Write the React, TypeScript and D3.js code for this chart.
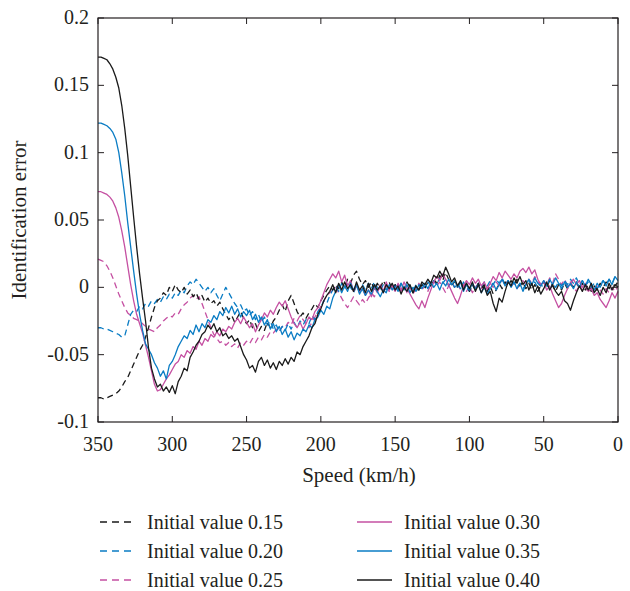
import React from "react";
import * as d3 from "d3";

// Speed axis (km/h), from 350 down to 0 in 2 km/h steps
const speeds: number[] = d3.range(350, -1, -2);

const xTicks = [350, 300, 250, 200, 150, 100, 50, 0];
const yTicks = [-0.1, -0.05, 0, 0.05, 0.1, 0.15, 0.2];
const yTickLabels = ["-0.1", "-0.05", "0", "0.05", "0.1", "0.15", "0.2"];

const init015: number[] = [
  -0.082, -0.082, -0.083, -0.082, -0.081, -0.080, -0.079, -0.077, -0.074, -0.070,
  -0.067, -0.062, -0.057, -0.052, -0.047, -0.043, -0.037, -0.030, -0.022, -0.015,
  -0.010, -0.008, -0.004, -0.006, 0.000, -0.003, 0.002, -0.002, -0.004, 0.000,
  -0.005, -0.002, -0.007, -0.004, -0.009, -0.006, -0.011, -0.008, -0.012, -0.010,
  -0.014, -0.011, -0.016, -0.020, -0.024, -0.021, -0.026, -0.022, -0.018, -0.023,
  -0.027, -0.024, -0.030, -0.027, -0.033, -0.029, -0.032, -0.026, -0.030, -0.025,
  -0.022, -0.017, -0.013, -0.018, -0.010, -0.006, -0.012, -0.018, -0.022, -0.019,
  -0.023, -0.019, -0.016, -0.012, -0.015, -0.010, -0.006, -0.002, 0.001, -0.002,
  0.002, -0.001, 0.004, 0.000, 0.006, 0.003, 0.009, 0.012, 0.006, 0.002,
  0.005, 0.000, 0.004, -0.002, 0.003, -0.001, 0.005, 0.001, 0.004, -0.002,
  0.002, -0.002, 0.003, -0.001, 0.004, 0.000, -0.004, 0.001, -0.003, 0.002,
  -0.001, 0.004, 0.001, 0.006, 0.003, 0.009, 0.005, 0.011, 0.006, 0.002,
  0.004, 0.000, 0.005, -0.001, 0.003, -0.003, 0.002, -0.002, 0.003, -0.001,
  0.002, -0.003, 0.001, -0.005, -0.002, 0.003, -0.001, 0.004, 0.001, 0.005,
  0.002, 0.006, 0.001, 0.004, -0.001, 0.003, -0.002, 0.002, -0.003, 0.001,
  0.004, 0.000, 0.005, 0.001, -0.003, 0.002, -0.002, 0.003, -0.001, 0.002,
  0.000, 0.004, -0.001, 0.003, -0.002, 0.002, -0.003, 0.001, -0.002, 0.003,
  0.000, 0.004, -0.001, 0.003, 0.001, 0.004,
];

const init020: number[] = [
  -0.030, -0.030, -0.031, -0.031, -0.032, -0.033, -0.034, -0.035, -0.037, -0.036,
  -0.028, -0.020, -0.017, -0.018, -0.014, -0.016, -0.012, -0.014, -0.010, -0.012,
  -0.009, -0.011, -0.007, -0.009, -0.005, -0.008, -0.004, -0.006, -0.002, -0.004,
  0.001, 0.004, 0.002, 0.006, 0.003, 0.000, -0.003, 0.000, -0.004, -0.001,
  -0.006, -0.010, -0.005, 0.000, -0.004, -0.008, -0.012, -0.015, -0.013, -0.018,
  -0.016, -0.021, -0.018, -0.024, -0.020, -0.026, -0.022, -0.028, -0.025, -0.031,
  -0.028, -0.033, -0.029, -0.032, -0.027, -0.031, -0.026, -0.030, -0.025, -0.028,
  -0.024, -0.027, -0.021, -0.024, -0.018, -0.015, -0.010, -0.012, -0.006, -0.002,
  0.001, -0.003, 0.003, -0.001, 0.004, 0.000, -0.004, 0.001, -0.003, 0.002,
  -0.002, 0.003, -0.001, 0.004, 0.000, -0.003, 0.002, -0.002, 0.003, -0.001,
  0.002, -0.002, 0.003, -0.001, 0.004, 0.001, -0.003, 0.002, -0.002, 0.003,
  0.000, 0.004, 0.001, 0.005, 0.002, 0.007, 0.003, 0.006, 0.001, 0.004,
  0.000, 0.003, -0.001, 0.004, 0.000, -0.003, 0.002, -0.002, 0.003, 0.000,
  0.004, 0.001, 0.005, 0.002, 0.006, 0.003, 0.007, 0.002, 0.005, 0.001,
  0.004, 0.000, 0.003, -0.001, 0.002, 0.005, 0.001, 0.004, 0.000, 0.003,
  -0.001, 0.002, -0.002, 0.003, 0.000, 0.004, 0.001, 0.005, 0.002, 0.006,
  0.003, 0.007, 0.002, 0.005, 0.001, 0.004, 0.000, 0.003, -0.001, 0.002,
  0.005, 0.002, 0.006, 0.003, 0.008, 0.010,
];

const init025: number[] = [
  0.021, 0.020, 0.019, 0.016, 0.012, 0.007, 0.001, -0.005, -0.010, -0.015,
  -0.019, -0.021, -0.023, -0.024, -0.025, -0.027, -0.029, -0.031, -0.032, -0.033,
  -0.030, -0.028, -0.025, -0.023, -0.021, -0.022, -0.019, -0.020, -0.016, -0.013,
  -0.011, -0.008, -0.006, -0.009, -0.007, -0.012, -0.018, -0.024, -0.030, -0.035,
  -0.038, -0.041, -0.040, -0.043, -0.041, -0.044, -0.042, -0.045, -0.041, -0.043,
  -0.040, -0.042, -0.038, -0.041, -0.037, -0.039, -0.035, -0.037, -0.033, -0.034,
  -0.031, -0.033, -0.029, -0.030, -0.026, -0.028, -0.023, -0.025, -0.021, -0.024,
  -0.027, -0.030, -0.026, -0.022, -0.018, -0.014, -0.010, -0.006, -0.004, -0.002,
  0.000, -0.004, -0.008, -0.012, -0.015, -0.011, -0.007, -0.010, -0.013, -0.009,
  -0.012, -0.008, -0.004, -0.007, -0.003, 0.000, -0.004, 0.001, -0.003, 0.002,
  -0.002, 0.002, -0.003, 0.001, -0.004, 0.000, -0.005, -0.001, 0.003, -0.002,
  0.001, -0.003, 0.002, 0.005, 0.001, 0.004, 0.000, -0.004, 0.001, 0.004,
  0.000, 0.003, -0.002, 0.002, -0.003, 0.001, -0.004, 0.000, 0.003, -0.001,
  0.002, -0.002, 0.003, 0.000, 0.004, 0.001, 0.006, 0.002, 0.005, 0.001,
  0.003, -0.001, 0.002, 0.005, 0.002, 0.006, 0.003, 0.008, 0.004, 0.001,
  0.005, 0.002, 0.007, 0.003, 0.010, 0.006, 0.002, 0.006, 0.001, 0.004,
  0.000, -0.003, 0.002, -0.002, 0.001, -0.004, 0.000, -0.003, 0.001, -0.002,
  -0.005, -0.001, -0.004, 0.000, -0.003, 0.001,
];

const init030: number[] = [
  0.071, 0.071, 0.070, 0.069, 0.067, 0.064, 0.059, 0.052, 0.042, 0.030,
  0.016, 0.002, -0.010, -0.020, -0.027, -0.034, -0.043, -0.052, -0.062, -0.072,
  -0.077, -0.076, -0.072, -0.068, -0.065, -0.061, -0.057, -0.055, -0.050, -0.052,
  -0.047, -0.049, -0.044, -0.046, -0.040, -0.043, -0.038, -0.040, -0.035, -0.037,
  -0.033, -0.036, -0.031, -0.033, -0.029, -0.031, -0.026, -0.023, -0.027, -0.022,
  -0.026, -0.030, -0.027, -0.033, -0.028, -0.024, -0.019, -0.022, -0.017, -0.020,
  -0.015, -0.011, -0.014, -0.010, -0.016, -0.022, -0.027, -0.030, -0.026, -0.031,
  -0.027, -0.022, -0.024, -0.018, -0.015, -0.010, -0.004, 0.002, 0.006, 0.010,
  0.007, 0.012, 0.004, 0.009, 0.001, 0.005, -0.003, 0.002, -0.004, -0.001,
  -0.006, -0.002, -0.007, 0.000, -0.004, 0.002, -0.003, 0.004, -0.002, 0.001,
  -0.003, 0.003, -0.002, 0.004, -0.001, -0.005, -0.009, -0.013, -0.016, -0.010,
  -0.015, -0.008, -0.002, 0.004, 0.008, 0.005, 0.010, 0.006, 0.002, -0.003,
  -0.008, -0.012, -0.006, 0.001, 0.005, 0.002, 0.007, 0.003, 0.006, 0.001,
  0.004, -0.001, 0.003, 0.008, 0.005, 0.011, 0.007, 0.012, 0.009, 0.006,
  0.010, 0.007, 0.012, 0.014, 0.011, 0.015, 0.010, 0.013, 0.006, 0.002,
  0.004, -0.002, 0.001, -0.005, -0.010, -0.015, -0.012, -0.006, -0.001, 0.003,
  0.006, 0.002, 0.005, 0.000, 0.003, -0.003, -0.001, -0.006, -0.004, -0.009,
  -0.012, -0.015, -0.010, -0.004, -0.008, -0.003,
];

const init035: number[] = [
  0.122, 0.122, 0.121, 0.120, 0.118, 0.115, 0.110, 0.100, 0.085, 0.068,
  0.048, 0.030, 0.012, -0.005, -0.020, -0.032, -0.042, -0.046, -0.050, -0.056,
  -0.060, -0.066, -0.062, -0.068, -0.058, -0.055, -0.050, -0.044, -0.040, -0.036,
  -0.038, -0.032, -0.035, -0.028, -0.033, -0.027, -0.030, -0.024, -0.026, -0.021,
  -0.024, -0.018, -0.021, -0.015, -0.019, -0.014, -0.020, -0.016, -0.022, -0.018,
  -0.021, -0.017, -0.024, -0.020, -0.026, -0.022, -0.028, -0.024, -0.031, -0.027,
  -0.033, -0.029, -0.035, -0.031, -0.037, -0.033, -0.039, -0.034, -0.036, -0.031,
  -0.033, -0.028, -0.030, -0.024, -0.022, -0.017, -0.020, -0.014, -0.016, -0.008,
  -0.003, 0.002, -0.004, 0.001, -0.003, 0.003, -0.002, 0.002, -0.005, -0.001,
  -0.006, -0.002, -0.005, 0.001, -0.003, -0.007, -0.002, -0.004, 0.002, -0.002,
  0.001, -0.003, 0.003, -0.002, 0.002, -0.004, 0.000, -0.003, 0.002, -0.001,
  0.003, -0.001, 0.004, 0.000, 0.003, -0.002, 0.004, 0.001, 0.006, 0.002,
  0.005, 0.000, 0.004, -0.003, 0.002, -0.002, 0.003, -0.001, 0.002, -0.004,
  0.000, -0.005, -0.001, 0.003, -0.002, 0.002, 0.006, 0.001, 0.005, 0.000,
  0.004, -0.001, 0.003, -0.003, 0.002, 0.006, 0.002, 0.007, 0.003, 0.001,
  0.005, 0.001, 0.006, 0.002, 0.007, 0.003, -0.001, 0.004, 0.000, 0.003,
  -0.001, 0.004, 0.000, 0.005, 0.001, 0.006, 0.002, -0.002, 0.003, 0.000,
  0.005, 0.001, 0.006, 0.002, 0.008, 0.005,
];

const init040: number[] = [
  0.171, 0.171, 0.170, 0.169, 0.166, 0.162, 0.156, 0.148, 0.135, 0.118,
  0.098, 0.075, 0.052, 0.030, 0.010, -0.008, -0.025, -0.045, -0.060, -0.068,
  -0.074, -0.072, -0.077, -0.074, -0.078, -0.073, -0.079, -0.070, -0.066, -0.060,
  -0.062, -0.052, -0.048, -0.043, -0.040, -0.035, -0.033, -0.028, -0.031, -0.027,
  -0.033, -0.030, -0.036, -0.034, -0.038, -0.036, -0.040, -0.038, -0.044, -0.050,
  -0.054, -0.060, -0.058, -0.063, -0.055, -0.052, -0.058, -0.054, -0.060, -0.056,
  -0.061, -0.055, -0.058, -0.053, -0.057, -0.052, -0.055, -0.048, -0.050, -0.044,
  -0.040, -0.036, -0.030, -0.027, -0.020, -0.016, -0.010, -0.006, -0.003, 0.002,
  -0.004, 0.003, -0.002, 0.004, -0.001, 0.002, -0.003, 0.004, -0.002, 0.001,
  -0.004, 0.003, -0.003, 0.002, -0.002, 0.001, -0.004, 0.002, -0.001, 0.003,
  -0.002, 0.001, -0.005, 0.000, -0.003, 0.002, -0.004, 0.001, -0.002, 0.004,
  0.002, 0.006, 0.003, 0.009, 0.007, 0.012, 0.008, 0.015, 0.010, 0.004,
  0.007, 0.001, 0.005, -0.002, 0.003, -0.001, 0.004, -0.003, 0.002, -0.004,
  0.001, -0.006, -0.003, -0.012, -0.018, -0.008, -0.011, -0.003, 0.004, 0.001,
  0.007, 0.003, 0.008, 0.002, 0.005, -0.002, 0.003, -0.004, 0.001, -0.005,
  -0.001, 0.004, -0.002, 0.002, -0.003, -0.006, -0.003, -0.010, -0.012, -0.017,
  -0.010, -0.004, 0.001, -0.003, 0.002, -0.002, 0.003, -0.004, -0.001, -0.006,
  0.000, -0.004, 0.003, -0.002, 0.002, 0.000,
];

const seriesNames = [
  "Initial value 0.15",
  "Initial value 0.20",
  "Initial value 0.25",
  "Initial value 0.30",
  "Initial value 0.35",
  "Initial value 0.40",
];

const BLACK = "#1a1a1a";
const BLUE = "#0a7cc4";
const MAGENTA = "#c550a2";

const seriesStyles = [
  { color: BLACK, dashed: true },
  { color: BLUE, dashed: true },
  { color: MAGENTA, dashed: true },
  { color: MAGENTA, dashed: false },
  { color: BLUE, dashed: false },
  { color: BLACK, dashed: false },
];

const seriesValues = [init015, init020, init025, init030, init035, init040];

const FONT = "Liberation Serif, DejaVu Serif, Times New Roman, serif";

export default function App() {
  const W = 630;
  const H = 591;
  const left = 98;
  const right = 618;
  const top = 18;
  const bottom = 422;

  const x = d3.scaleLinear().domain([350, 0]).range([left, right]);
  const y = d3.scaleLinear().domain([-0.1, 0.2]).range([bottom, top]);

  const line = d3
    .line<number>()
    .x((_, i) => x(speeds[i]))
    .y((d) => y(d));

  const tickLen = 6;
  const drawOrder = [2, 1, 0, 3, 4, 5];

  const legendRows = [0, 1, 2];
  const legendY = [529, 558, 587];
  const fs = 20;
  const txt = { fontFamily: FONT, fill: "#231f20" } as React.CSSProperties;

  return (
    <svg
      width={W}
      height={H}
      style={{ position: "absolute", left: 0, top: 0, background: "#fff", fontFamily: FONT }}
    >
      <rect x={0} y={0} width={W} height={H} fill="#fff" />
      {drawOrder.map((k) => (
        <path
          key={k}
          d={line(seriesValues[k]) || ""}
          fill="none"
          stroke={seriesStyles[k].color}
          strokeWidth={1.3}
          strokeDasharray={seriesStyles[k].dashed ? "6,4" : undefined}
          strokeLinejoin="round"
        />
      ))}
      <rect
        x={left}
        y={top}
        width={right - left}
        height={bottom - top}
        fill="none"
        stroke="#231f20"
        strokeWidth={1.2}
      />
      {xTicks.map((t) => (
        <g key={"xt" + t}>
          <line x1={x(t)} x2={x(t)} y1={bottom} y2={bottom - tickLen} stroke="#231f20" strokeWidth={1} />
          <line x1={x(t)} x2={x(t)} y1={top} y2={top + tickLen} stroke="#231f20" strokeWidth={1} />
          <text x={x(t)} y={451} textAnchor="middle" fontSize={fs} style={txt}>
            {t}
          </text>
        </g>
      ))}
      {yTicks.map((t, i) => (
        <g key={"yt" + i}>
          <line x1={left} x2={left + tickLen} y1={y(t)} y2={y(t)} stroke="#231f20" strokeWidth={1} />
          <line x1={right} x2={right - tickLen} y1={y(t)} y2={y(t)} stroke="#231f20" strokeWidth={1} />
          <text x={89} y={y(t) + 6} textAnchor="end" fontSize={fs} style={txt}>
            {yTickLabels[i]}
          </text>
        </g>
      ))}
      <text x={359} y={482} textAnchor="middle" fontSize={21} style={txt}>
        Speed (km/h)
      </text>
      <text
        transform={`translate(26, 220) rotate(-90)`}
        textAnchor="middle"
        fontSize={21}
        style={txt}
      >
        Identification error
      </text>
      {legendRows.map((r) => {
        const a = r;
        const b = r + 3;
        const yy = legendY[r];
        return (
          <g key={"lg" + r}>
            <line
              x1={100}
              x2={135}
              y1={yy - 7}
              y2={yy - 7}
              stroke={seriesStyles[a].color}
              strokeWidth={1.3}
              strokeDasharray="7,5"
            />
            <text x={147} y={yy} fontSize={fs} style={txt}>
              {seriesNames[a]}
            </text>
            <line
              x1={357}
              x2={392}
              y1={yy - 7}
              y2={yy - 7}
              stroke={seriesStyles[b].color}
              strokeWidth={1.3}
            />
            <text x={404} y={yy} fontSize={fs} style={txt}>
              {seriesNames[b]}
            </text>
          </g>
        );
      })}
    </svg>
  );
}
